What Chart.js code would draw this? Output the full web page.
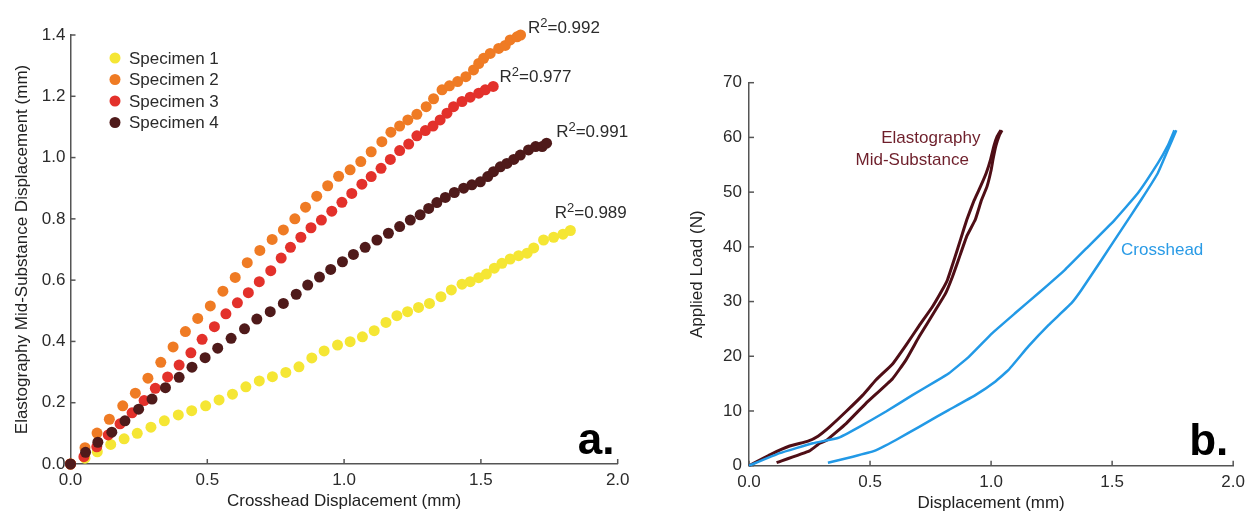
<!DOCTYPE html>
<html>
<head>
<meta charset="utf-8">
<script src="https://cdn.jsdelivr.net/npm/chart.js@4.4.0/dist/chart.umd.min.js"></script>
<style>
  html, body { margin: 0; padding: 0; background: #fff; }
  #wrap { position: relative; width: 1251px; height: 514px; }
  .panel { position: absolute; top: 0; height: 514px; }
  #panelA { left: 0; width: 640px; }
  #panelB { left: 640px; width: 611px; }
</style>
</head>
<body>
<div id="wrap">
  <div class="panel" id="panelA"><canvas id="chartA"></canvas></div>
  <div class="panel" id="panelB"><canvas id="chartB"></canvas></div>
</div>
<script>
// ---- panel a: elastography vs crosshead displacement (mm) ----
const specNames = ['Specimen 1', 'Specimen 2', 'Specimen 3', 'Specimen 4'];
const specColors = ['#f5e634', '#ef7b24', '#e3312b', '#4f1a1a'];
const r2Text = ['0.989', '0.992', '0.977', '0.991'];
// where each R² label starts (data units)
const r2AtX = [1.77, 1.672, 1.568, 1.775];
const r2AtY = [0.802, 1.406, 1.248, 1.066];

const spec1X = [0, 0.053, 0.098, 0.147, 0.196, 0.244, 0.294, 0.343, 0.394, 0.443, 0.494, 0.543, 0.592, 0.641, 0.69, 0.738, 0.787, 0.835, 0.882, 0.927, 0.976, 1.022, 1.067, 1.11, 1.153, 1.193, 1.232, 1.272, 1.312, 1.354, 1.392, 1.431, 1.461, 1.492, 1.52, 1.549, 1.577, 1.607, 1.638, 1.669, 1.693, 1.729, 1.766, 1.80, 1.827];
const spec1Y = [0, 0.019, 0.04, 0.064, 0.082, 0.10, 0.12, 0.141, 0.16, 0.174, 0.19, 0.209, 0.228, 0.252, 0.271, 0.285, 0.299, 0.317, 0.346, 0.369, 0.388, 0.399, 0.415, 0.435, 0.462, 0.484, 0.497, 0.511, 0.524, 0.546, 0.568, 0.587, 0.595, 0.608, 0.62, 0.639, 0.655, 0.669, 0.68, 0.688, 0.705, 0.731, 0.74, 0.75, 0.762];

const spec2X = [0, 0.053, 0.097, 0.142, 0.191, 0.237, 0.283, 0.33, 0.375, 0.42, 0.465, 0.511, 0.557, 0.602, 0.646, 0.692, 0.737, 0.778, 0.82, 0.859, 0.90, 0.94, 0.98, 1.022, 1.061, 1.099, 1.138, 1.171, 1.203, 1.233, 1.266, 1.30, 1.327, 1.358, 1.385, 1.415, 1.445, 1.473, 1.492, 1.51, 1.534, 1.565, 1.589, 1.607, 1.632, 1.645];
const spec2Y = [0, 0.053, 0.101, 0.146, 0.19, 0.231, 0.28, 0.332, 0.382, 0.432, 0.475, 0.516, 0.564, 0.609, 0.657, 0.697, 0.733, 0.764, 0.80, 0.838, 0.874, 0.908, 0.939, 0.96, 0.987, 1.019, 1.052, 1.083, 1.103, 1.123, 1.141, 1.166, 1.192, 1.221, 1.234, 1.248, 1.264, 1.286, 1.307, 1.324, 1.34, 1.356, 1.366, 1.384, 1.394, 1.40];

const spec3X = [0, 0.049, 0.096, 0.138, 0.181, 0.225, 0.269, 0.31, 0.355, 0.397, 0.44, 0.481, 0.526, 0.568, 0.61, 0.65, 0.69, 0.732, 0.77, 0.804, 0.842, 0.879, 0.917, 0.955, 0.992, 1.028, 1.065, 1.099, 1.135, 1.169, 1.203, 1.236, 1.266, 1.297, 1.325, 1.351, 1.376, 1.40, 1.431, 1.461, 1.492, 1.516, 1.545];
const spec3Y = [0, 0.024, 0.056, 0.095, 0.131, 0.167, 0.207, 0.247, 0.284, 0.323, 0.363, 0.407, 0.448, 0.49, 0.526, 0.559, 0.595, 0.631, 0.672, 0.707, 0.74, 0.771, 0.796, 0.825, 0.854, 0.883, 0.913, 0.938, 0.965, 0.994, 1.023, 1.044, 1.071, 1.088, 1.103, 1.123, 1.145, 1.166, 1.183, 1.197, 1.21, 1.221, 1.232];

const spec4X = [0, 0.055, 0.10, 0.151, 0.199, 0.249, 0.298, 0.347, 0.397, 0.444, 0.492, 0.538, 0.587, 0.636, 0.681, 0.73, 0.778, 0.825, 0.867, 0.91, 0.951, 0.994, 1.034, 1.077, 1.12, 1.162, 1.203, 1.242, 1.278, 1.309, 1.339, 1.37, 1.403, 1.437, 1.467, 1.498, 1.525, 1.546, 1.571, 1.595, 1.62, 1.644, 1.674, 1.70, 1.724, 1.74];
const spec4Y = [0, 0.038, 0.071, 0.104, 0.141, 0.179, 0.212, 0.249, 0.283, 0.316, 0.347, 0.378, 0.41, 0.441, 0.473, 0.497, 0.524, 0.554, 0.584, 0.61, 0.635, 0.66, 0.684, 0.707, 0.731, 0.753, 0.775, 0.796, 0.813, 0.834, 0.853, 0.87, 0.886, 0.90, 0.911, 0.921, 0.938, 0.954, 0.97, 0.981, 0.994, 1.008, 1.025, 1.036, 1.036, 1.047];

// ---- panel b: applied load (N) vs displacement (mm) ----
const elastoLoadX = [0, 0.086, 0.168, 0.244, 0.285, 0.333, 0.401, 0.47, 0.525, 0.593, 0.648, 0.703, 0.757, 0.798, 0.82, 0.85, 0.875, 0.90, 0.93, 0.956, 0.98, 0.998, 1.012, 1.025, 1.04];
const elastoLoadY = [0, 2.0, 3.6, 4.5, 5.4, 7.1, 9.9, 12.9, 15.7, 18.6, 22.0, 25.6, 29.0, 32.1, 34.0, 38.0, 41.5, 45.0, 48.5, 51.0, 53.5, 56.0, 58.5, 60.2, 61.3];
const elastoUnloadX = [0.114, 0.25, 0.292, 0.319, 0.401, 0.483, 0.593, 0.648, 0.703, 0.771, 0.812, 0.84, 0.865, 0.90, 0.935, 0.96, 0.983, 1.0, 1.008, 1.02, 1.035, 1.045];
const elastoUnloadY = [0.55, 2.7, 4.1, 4.6, 7.7, 11.4, 15.9, 19.3, 23.6, 28.5, 31.5, 34.5, 37.6, 42.0, 45.0, 48.5, 51.0, 54.0, 56.0, 58.5, 60.5, 61.3];
const crossLoadX = [0, 0.127, 0.264, 0.37, 0.456, 0.566, 0.675, 0.771, 0.826, 0.908, 1.004, 1.10, 1.20, 1.305, 1.40, 1.51, 1.606, 1.689, 1.73, 1.757];
const crossLoadY = [0, 2.3, 4.1, 5.1, 7.1, 9.9, 12.9, 15.4, 16.9, 19.9, 24.2, 27.9, 31.7, 35.8, 40.0, 44.9, 49.8, 55.3, 58.5, 61.3];
const crossUnloadX = [1.765, 1.73, 1.689, 1.62, 1.538, 1.456, 1.373, 1.332, 1.237, 1.154, 1.072, 1.018, 0.935, 0.826, 0.778, 0.703, 0.607, 0.518, 0.429, 0.326];
const crossUnloadY = [61.3, 57.7, 53.5, 48.6, 43.1, 37.6, 32.1, 29.7, 25.7, 21.8, 17.5, 15.4, 12.9, 10.2, 9.0, 7.1, 4.7, 2.7, 1.65, 0.55];

const FONT = "'Liberation Sans', Arial, Helvetica, sans-serif";
const AXIS_COLOR = '#555555';
const TEXT_COLOR = '#2b2b2b';
const MAROON = '#4f0e16';
const BLUE = '#2299e6';

const pairs = (xs, ys) => xs.map((x, i) => ({ x: x, y: ys[i] }));

// short ticks pointing into the plot area
const innerTicks = {
  id: 'innerTicks',
  beforeDatasetsDraw(chart) {
    const { ctx, chartArea, scales } = chart;
    ctx.save();
    ctx.strokeStyle = AXIS_COLOR;
    ctx.lineWidth = 1.5;
    scales.x.ticks.forEach((t, i) => {
      const px = scales.x.getPixelForTick(i);
      ctx.beginPath();
      ctx.moveTo(px, chartArea.bottom);
      ctx.lineTo(px, chartArea.bottom - 5);
      ctx.stroke();
    });
    scales.y.ticks.forEach((t, i) => {
      const py = scales.y.getPixelForTick(i);
      ctx.beginPath();
      ctx.moveTo(chartArea.left, py);
      ctx.lineTo(chartArea.left + 5, py);
      ctx.stroke();
    });
    ctx.restore();
  }
};

function panelLetter(chart, letter, dx, dy) {
  const { ctx, chartArea } = chart;
  ctx.save();
  ctx.font = 'bold 44px ' + FONT;
  ctx.fillStyle = '#000';
  ctx.textBaseline = 'alphabetic';
  ctx.fillText(letter, chartArea.right - dx, chartArea.bottom - dy);
  ctx.restore();
}

const panelAText = {
  id: 'panelAText',
  afterDraw(chart) {
    const { ctx, scales } = chart;
    ctx.save();
    // legend
    ctx.font = '17px ' + FONT;
    ctx.textBaseline = 'middle';
    specNames.forEach((name, i) => {
      const y = 58 + i * 21.5;
      ctx.fillStyle = specColors[i];
      ctx.beginPath();
      ctx.arc(115, y, 5.5, 0, Math.PI * 2);
      ctx.fill();
      ctx.fillStyle = TEXT_COLOR;
      ctx.fillText(name, 129, y + 1);
    });
    // R² labels
    ctx.textBaseline = 'alphabetic';
    r2Text.forEach((val, i) => {
      let x = scales.x.getPixelForValue(r2AtX[i]);
      const y = scales.y.getPixelForValue(r2AtY[i]);
      ctx.fillStyle = TEXT_COLOR;
      ctx.font = '17px ' + FONT;
      ctx.fillText('R', x, y);
      x += ctx.measureText('R').width;
      ctx.font = '13px ' + FONT;
      ctx.fillText('2', x, y - 6);
      x += ctx.measureText('2').width;
      ctx.font = '17px ' + FONT;
      ctx.fillText('=' + val, x, y);
    });
    ctx.restore();
    panelLetter(chart, 'a.', 40, 10);
  }
};

const panelBText = {
  id: 'panelBText',
  afterDraw(chart) {
    const { ctx, scales } = chart;
    const put = (txt, x, y, color) => {
      ctx.fillStyle = color;
      ctx.fillText(txt, scales.x.getPixelForValue(x), scales.y.getPixelForValue(y));
    };
    ctx.save();
    ctx.font = '17px ' + FONT;
    ctx.textBaseline = 'alphabetic';
    put('Elastography', 0.546, 58.9, '#6e1f2b');
    put('Mid-Substance', 0.44, 55.0, '#6e1f2b');
    put('Crosshead', 1.537, 38.5, '#2a9be6');
    ctx.restore();
    panelLetter(chart, 'b.', 44, 10.5);
  }
};

function axis(min, max, step, digits, titleText, titlePad, labelPad, fitSize, horizontal) {
  return {
    type: 'linear',
    min: min,
    max: max,
    border: { display: true, color: AXIS_COLOR, width: 1.5 },
    grid: { display: false, drawTicks: false },
    ticks: {
      stepSize: step,
      padding: labelPad,
      color: TEXT_COLOR,
      font: { family: FONT, size: 17 },
      callback: v => Number(v).toFixed(digits)
    },
    title: {
      display: true,
      text: titleText,
      color: '#222',
      font: { family: FONT, size: 17 },
      padding: titlePad
    },
    afterFit(scale) {
      if (horizontal) scale.height = fitSize;
      else scale.width = fitSize;
    }
  };
}

Chart.defaults.font.family = FONT;

new Chart(document.getElementById('chartA'), {
  type: 'scatter',
  data: {
    datasets: [
      { label: specNames[0], data: pairs(spec1X, spec1Y), backgroundColor: specColors[0], order: 4 },
      { label: specNames[1], data: pairs(spec2X, spec2Y), backgroundColor: specColors[1], order: 3 },
      { label: specNames[2], data: pairs(spec3X, spec3Y), backgroundColor: specColors[2], order: 2 },
      { label: specNames[3], data: pairs(spec4X, spec4Y), backgroundColor: specColors[3], order: 1 }
    ].map(d => Object.assign(d, { pointRadius: 5.5, borderWidth: 0, clip: false }))
  },
  options: {
    responsive: true,
    maintainAspectRatio: false,
    animation: false,
    layout: { padding: { left: 0, top: 35, right: 22.3, bottom: 0 } },
    plugins: { legend: { display: false }, tooltip: { enabled: false } },
    scales: {
      x: axis(0, 2, 0.5, 1, 'Crosshead Displacement (mm)', { top: 0, bottom: 2 }, 6, 50, true),
      y: axis(0, 1.4, 0.2, 1, 'Elastography Mid-Substance Displacement (mm)', { top: 12, bottom: 0 }, 5, 70.5, false)
    }
  },
  plugins: [innerTicks, panelAText]
});

const lineStyle = (color, w) => ({ borderColor: color, backgroundColor: color, borderWidth: w, showLine: true, pointRadius: 0, tension: 0.1, clip: false });

new Chart(document.getElementById('chartB'), {
  type: 'scatter',
  data: {
    datasets: [
      Object.assign({ label: 'Crosshead loading', data: pairs(crossLoadX, crossLoadY) }, lineStyle(BLUE, 2.5)),
      Object.assign({ label: 'Crosshead unloading', data: pairs(crossUnloadX, crossUnloadY) }, lineStyle(BLUE, 2.5)),
      Object.assign({ label: 'Elastography loading', data: pairs(elastoLoadX, elastoLoadY) }, lineStyle(MAROON, 3)),
      Object.assign({ label: 'Elastography unloading', data: pairs(elastoUnloadX, elastoUnloadY) }, lineStyle(MAROON, 3))
    ]
  },
  options: {
    responsive: true,
    maintainAspectRatio: false,
    animation: false,
    layout: { padding: { left: 0, top: 82.7, right: 15, bottom: 0 } },
    plugins: { legend: { display: false }, tooltip: { enabled: false } },
    scales: {
      x: axis(0, 2, 0.5, 1, 'Displacement (mm)', { top: 0, bottom: 0 }, 6, 48.3, true),
      y: axis(0, 70, 10, 0, 'Applied Load (N)', { top: 47, bottom: 0 }, 7, 109, false)
    }
  },
  plugins: [innerTicks, panelBText]
});
</script>
</body>
</html>
